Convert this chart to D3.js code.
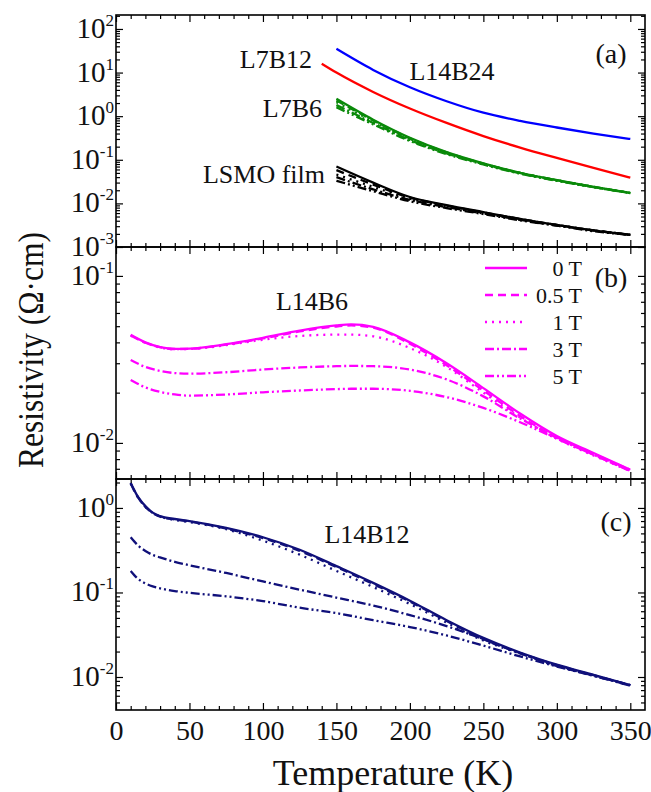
<!DOCTYPE html>
<html>
<head>
<meta charset="utf-8">
<script src="https://cdn.jsdelivr.net/npm/d3@7"></script>
<style>
  body { margin: 0; background: #fff; }
  svg text { font-family: "Liberation Serif", "Times New Roman", "DejaVu Serif", serif; }
</style>
</head>
<body>
<div id="chart"></div>
<script>
// ---- data ----
const fields = ["0 T", "0.5 T", "1 T", "3 T", "5 T"];
const dashes = [null, "8,5", "2,5", "9,3,2,3", "9,3,2,3,2,3"];

// panel (a)
const tA = [150, 175, 200, 225, 250, 275, 300, 325, 350];
const tL7B12 = [140, 150, 175, 200, 225, 250, 275, 300, 325, 350];
const L14B24 = [35, 11.5, 4.6, 2.2, 1.2, 0.78, 0.55, 0.40, 0.30];
const L7B12 = [16, 10, 3.6, 1.5, 0.70, 0.35, 0.19, 0.11, 0.065, 0.039];
const L7B6 = [
  [2.5, 0.83, 0.32, 0.15, 0.083, 0.050, 0.034, 0.024, 0.0174],
  [2.3, 0.80, 0.31, 0.148, 0.082, 0.050, 0.034, 0.024, 0.0174],
  [2.1, 0.76, 0.30, 0.145, 0.081, 0.050, 0.034, 0.024, 0.0173],
  [1.8, 0.70, 0.285, 0.14, 0.080, 0.049, 0.0335, 0.0237, 0.0172],
  [1.6, 0.65, 0.27, 0.135, 0.078, 0.048, 0.033, 0.0235, 0.0171]
];
const LSMO = [
  [0.070, 0.030, 0.0140, 0.0091, 0.0063, 0.0044, 0.0032, 0.0024, 0.0019],
  [0.058, 0.027, 0.0135, 0.0089, 0.0062, 0.0044, 0.0032, 0.0024, 0.0019],
  [0.046, 0.024, 0.0128, 0.0086, 0.0061, 0.0043, 0.0032, 0.0024, 0.0019],
  [0.040, 0.021, 0.0120, 0.0082, 0.0059, 0.0042, 0.0031, 0.0024, 0.0019],
  [0.033, 0.019, 0.0112, 0.0078, 0.0057, 0.0041, 0.0031, 0.0023, 0.0019]
];

// panel (b) L14B6
const tB = [10, 20, 30, 40, 50, 75, 100, 125, 150, 160, 175, 200, 225, 250, 275, 300, 325, 350];
const L14B6 = [
  [0.0444, 0.0400, 0.0375, 0.0366, 0.0367, 0.0390, 0.0426, 0.0470, 0.0505, 0.0512, 0.0495, 0.0400, 0.0300, 0.0213, 0.0150, 0.0110, 0.0087, 0.0069],
  [0.0440, 0.0398, 0.0374, 0.0365, 0.0366, 0.0388, 0.0422, 0.0465, 0.0498, 0.0505, 0.0490, 0.0392, 0.0292, 0.0206, 0.0145, 0.0107, 0.0085, 0.0068],
  [0.0440, 0.0398, 0.0373, 0.0364, 0.0365, 0.0385, 0.0415, 0.0437, 0.0445, 0.0445, 0.0435, 0.0370, 0.0285, 0.0200, 0.0142, 0.0106, 0.0084, 0.0068],
  [0.0314, 0.0285, 0.0270, 0.0262, 0.0260, 0.0265, 0.0275, 0.0283, 0.0288, 0.0289, 0.0288, 0.0275, 0.0240, 0.0190, 0.0140, 0.0108, 0.0086, 0.0069],
  [0.0238, 0.0215, 0.0202, 0.0195, 0.0192, 0.0195, 0.0201, 0.0206, 0.0210, 0.0211, 0.0211, 0.0205, 0.0188, 0.0162, 0.0133, 0.0106, 0.0085, 0.0068]
];

// panel (c) L14B12
const tC = [10, 15, 20, 25, 30, 40, 50, 75, 100, 125, 150, 175, 200, 225, 250, 275, 300, 325, 350];
const L14B12 = [
  [1.98, 1.35, 1.05, 0.88, 0.80, 0.74, 0.70, 0.58, 0.45, 0.32, 0.205, 0.130, 0.080, 0.047, 0.029, 0.0195, 0.0140, 0.0106, 0.0080],
  [1.95, 1.33, 1.03, 0.87, 0.79, 0.73, 0.69, 0.57, 0.44, 0.31, 0.200, 0.126, 0.078, 0.046, 0.028, 0.0192, 0.0138, 0.0105, 0.0080],
  [1.95, 1.33, 1.03, 0.87, 0.79, 0.72, 0.68, 0.56, 0.41, 0.28, 0.180, 0.116, 0.073, 0.044, 0.027, 0.0190, 0.0136, 0.0104, 0.0080],
  [0.45, 0.36, 0.31, 0.278, 0.26, 0.23, 0.21, 0.17, 0.135, 0.108, 0.087, 0.070, 0.054, 0.040, 0.028, 0.0190, 0.0135, 0.0104, 0.0080],
  [0.18, 0.145, 0.128, 0.118, 0.112, 0.104, 0.099, 0.090, 0.079, 0.066, 0.057, 0.047, 0.039, 0.031, 0.0235, 0.0175, 0.0133, 0.0103, 0.0079]
];

const xTicks = [0, 50, 100, 150, 200, 250, 300, 350];

(() => {
  const width = 651, height = 792;
  const svg = d3.select("#chart").append("svg")
    .attr("width", width)
    .attr("height", height)
    .attr("font-family", "Liberation Serif, Times New Roman, DejaVu Serif, serif");

  const x = d3.scaleLinear().domain([0, 360]).range([116, 645]);

  const panels = [
    { id: "a", top: 15, bottom: 247, domain: [1e-3, 209], majors: [1e-3, 1e-2, 1e-1, 1e0, 1e1, 1e2] },
    { id: "b", top: 247, bottom: 479, domain: [0.00608, 0.149], majors: [1e-2, 1e-1] },
    { id: "c", top: 479, bottom: 710, domain: [0.00407, 2.2], majors: [1e-2, 1e-1, 1e0] }
  ];

  panels.forEach(p => {
    p.y = d3.scaleLog().domain(p.domain).range([p.bottom, p.top]);
    const lo = Math.floor(Math.log10(p.domain[0])), hi = Math.ceil(Math.log10(p.domain[1]));
    p.minors = [];
    for (let e = lo; e <= hi; e++) for (let k = 2; k <= 9; k++) {
      const v = k * Math.pow(10, e);
      if (v > p.domain[0] && v < p.domain[1]) p.minors.push(v);
    }
    p.g = svg.append("g");
    svg.append("clipPath").attr("id", "clip-" + p.id)
      .append("rect").attr("x", x(0)).attr("y", p.top)
      .attr("width", x(360) - x(0)).attr("height", p.bottom - p.top);
  });

  const xMinor = d3.range(10, 360, 10).filter(v => v % 50 !== 0);

  function axes(p, showX) {
    const g = svg.append("g").attr("class", "axes");
    const add = (gen, tr) => {
      const a = g.append("g").attr("transform", tr).call(gen);
      a.select(".domain").remove();
      a.selectAll("line").attr("stroke", "#000").attr("stroke-width", 1.2);
      a.attr("font-family", null);
      return a;
    };
    // x ticks, inward top and bottom
    const bot = add(d3.axisBottom(x).tickValues(xTicks).tickSize(-7).tickPadding(10)
      .tickFormat(showX ? d3.format("d") : ""), `translate(0,${p.bottom})`);
    bot.selectAll("text").style("font-size", "28px").attr("fill", "#111");
    add(d3.axisBottom(x).tickValues(xMinor).tickSize(-4).tickFormat(""), `translate(0,${p.bottom})`);
    add(d3.axisTop(x).tickValues(xTicks).tickSize(-7).tickFormat(""), `translate(0,${p.top})`);
    add(d3.axisTop(x).tickValues(xMinor).tickSize(-4).tickFormat(""), `translate(0,${p.top})`);
    // y ticks, inward left and right
    add(d3.axisLeft(p.y).tickValues(p.majors).tickSize(-7).tickFormat(""), `translate(${x(0)},0)`);
    add(d3.axisLeft(p.y).tickValues(p.minors).tickSize(-4).tickFormat(""), `translate(${x(0)},0)`);
    add(d3.axisRight(p.y).tickValues(p.majors).tickSize(-7).tickFormat(""), `translate(${x(360)},0)`);
    add(d3.axisRight(p.y).tickValues(p.minors).tickSize(-4).tickFormat(""), `translate(${x(360)},0)`);

    // power-of-ten labels
    p.majors.forEach(v => {
      const t = g.append("text")
        .attr("x", 114)
        .attr("y", p.y(v) + 9)
        .attr("text-anchor", "end")
        .attr("fill", "#111");
      t.append("tspan").style("font-size", "29px").text("10");
      t.append("tspan").attr("dy", -12).style("font-size", "17px").text(Math.round(Math.log10(v)));
    });

    g.append("rect")
      .attr("x", x(0)).attr("y", p.top)
      .attr("width", x(360) - x(0)).attr("height", p.bottom - p.top)
      .attr("fill", "none").attr("stroke", "#000").attr("stroke-width", 1.6);
  }

  function curve(p, temps, vals, color, dash) {
    const line = d3.line()
      .x((d, i) => x(temps[i]))
      .y(d => p.y(d))
      .curve(d3.curveMonotoneX);
    p.g.append("path")
      .datum(vals)
      .attr("clip-path", `url(#clip-${p.id})`)
      .attr("d", line)
      .attr("fill", "none")
      .attr("stroke", color)
      .attr("stroke-width", 2.3)
      .attr("stroke-dasharray", dash);
  }

  function label(txt, px, py, anchor, size) {
    svg.append("text")
      .attr("x", px).attr("y", py)
      .attr("text-anchor", anchor)
      .attr("fill", "#111")
      .style("font-size", size + "px")
      .text(txt);
  }

  const [pa, pb, pc] = panels;

  // panel (a)
  LSMO.forEach((s, i) => curve(pa, tA, s, "#000", dashes[i]));
  L7B6.forEach((s, i) => curve(pa, tA, s, "#0a8a0a", dashes[i]));
  curve(pa, tL7B12, L7B12, "#ff0000", null);
  curve(pa, tA, L14B24, "#0000ff", null);

  // panel (b)
  L14B6.forEach((s, i) => curve(pb, tB, s, "#ff00ff", dashes[i]));

  // panel (c)
  L14B12.forEach((s, i) => curve(pc, tC, s, "#10107a", dashes[i]));

  axes(pa, false);
  axes(pb, false);
  axes(pc, true);

  // annotations
  label("(a)", 611, 63, "middle", 28);
  label("(b)", 611, 287, "middle", 28);
  label("(c)", 616, 531, "middle", 28);
  label("L14B24", 452, 80, "middle", 26);
  label("L7B12", 312, 68, "end", 26);
  label("L7B6", 322, 117, "end", 26);
  label("LSMO film", 325, 183, "end", 26);
  label("L14B6", 312, 310, "middle", 26);
  label("L14B12", 367, 543, "middle", 26);

  // legend in (b)
  const legend = svg.append("g");
  fields.forEach((f, i) => {
    const ly = 268 + i * 27;
    legend.append("line")
      .attr("x1", 485).attr("x2", 527)
      .attr("y1", ly).attr("y2", ly)
      .attr("stroke", "#ff00ff")
      .attr("stroke-width", 2.3)
      .attr("stroke-dasharray", dashes[i]);
    legend.append("text")
      .attr("x", 582).attr("y", ly + 8)
      .attr("text-anchor", "end")
      .attr("fill", "#111")
      .style("font-size", "22px")
      .text(f);
  });

  // axis titles
  svg.append("text")
    .attr("x", 393).attr("y", 785)
    .attr("text-anchor", "middle")
    .attr("fill", "#111")
    .style("font-size", "36px")
    .text("Temperature (K)");

  svg.append("text")
    .attr("transform", "translate(43,350) rotate(-90)")
    .attr("text-anchor", "middle")
    .attr("fill", "#111")
    .style("font-size", "36px")
    .attr("textLength", 236)
    .attr("lengthAdjust", "spacingAndGlyphs")
    .text("Resistivity (Ω·cm)");
})();
</script>
</body>
</html>
